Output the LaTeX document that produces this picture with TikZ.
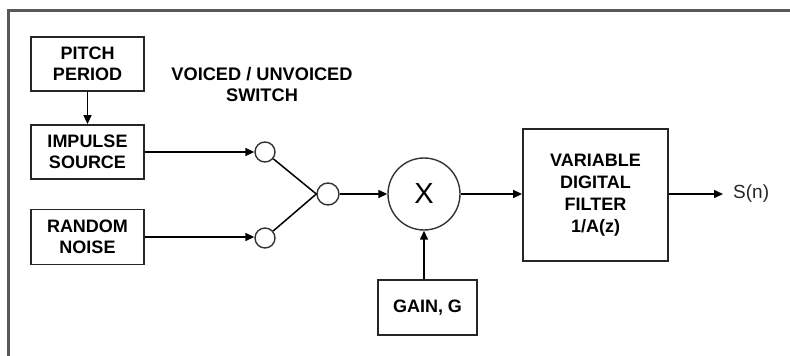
\documentclass[tikz,border=0pt]{standalone}
\usepackage{fontspec}
\setmainfont{Liberation Sans}
\usetikzlibrary{arrows.meta}
\begin{document}
\begin{tikzpicture}[x=1pt,y=-1pt,
  blk/.style={draw=black!85, line width=1.8pt, align=center, inner sep=0pt,
    font=\bfseries\fontsize{18}{20.5}\selectfont},
  sw/.style={draw=black!80, line width=1.4pt, circle, minimum size=20pt, inner sep=0pt},
  flow/.style={line width=1.5pt, -{Triangle[length=9pt,width=8pt]}},
  wire/.style={line width=1.5pt}]
\useasboundingbox (0,0) rectangle (790,356);
% outer frame
\draw[line width=3pt, black!65] (790,10) -- (8,10) -- (8,356);

% excitation sources
\node[blk, minimum width=113pt, minimum height=54pt] (pitch) at (87.5,64) {PITCH\\PERIOD};
\node[blk, minimum width=113pt, minimum height=54pt] (impulse) at (87.5,152) {IMPULSE\\SOURCE};
\node[blk, minimum width=113pt, minimum height=55pt] (noise) at (87.5,237) {RANDOM\\NOISE};

% voiced / unvoiced switch
\node[align=center, font=\bfseries\fontsize{18.2}{21}\selectfont] (swlabel) at (262,84) {VOICED / UNVOICED\\SWITCH};
\node[sw] (s1) at (265,152) {};
\node[sw] (s2) at (265,238) {};
\node[sw, minimum size=22pt] (s3) at (328,194) {};

% multiplier and gain
\node[draw=black!80, line width=1.4pt, circle, minimum size=72pt, inner sep=0pt,
  font=\fontsize{29}{30}\selectfont] (mult) at (424,194) {X};
\node[blk, minimum width=99pt, minimum height=55pt] (gain) at (427.5,307.5) {GAIN, G};

% synthesis filter
\node[blk, minimum width=145pt, minimum height=132pt, font=\bfseries\fontsize{18}{22}\selectfont] (filter) at (595.5,195) {VARIABLE\\DIGITAL\\FILTER\\1/A(z)};

\coordinate (out) at (723,194);
\node[anchor=west, inner sep=0pt, font=\fontsize{19}{21}\selectfont, text=black!85] (sn) at (733,194) {S(n)};

% connections
\draw[flow] (pitch.south) -- (impulse.north);
\draw[flow] (impulse.east) -- (s1.west);
\draw[flow] (noise.east) -- (noise.east -| s2.west);
\draw[wire] (s1) -- (s3.west);
\draw[wire] (s2) -- (s3.west);
\draw[flow] (s3.east) -- (mult.west);
\draw[flow] (mult.east) -- (filter.west |- mult.east);
\draw[flow] (gain.north -| mult.south) -- (mult.south);
\draw[flow] (filter.east |- out) -- (out);
\end{tikzpicture}
\end{document}
